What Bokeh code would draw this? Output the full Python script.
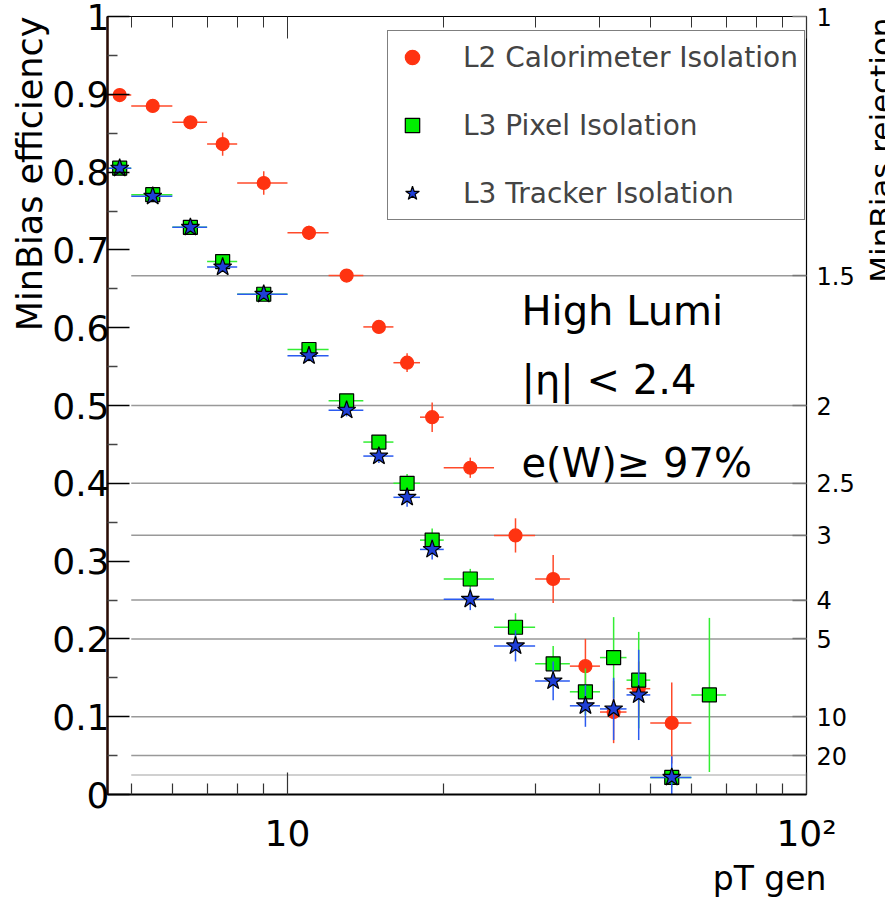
import math
from bokeh.plotting import figure
from bokeh.layouts import row
from bokeh.models import (FixedTicker, LinearAxis, LogAxis, Label, CustomJSTickFormatter,
                          ColumnDataSource, Legend, LegendItem, Title)
from bokeh.embed import file_html
from bokeh.resources import INLINE

# ---- data ----
pt_center = [4.75, 5.5, 6.5, 7.5, 9, 11, 13, 15, 17, 19, 22.5, 27.5, 32.5, 37.5, 42.5, 47.5, 55, 65]
pt_lo = [4.5, 5, 6, 7, 8, 10, 12, 14, 16, 18, 20, 25, 30, 35, 40, 45, 50, 60]
pt_hi = [5, 6, 7, 8, 10, 12, 14, 16, 18, 20, 25, 30, 35, 40, 45, 50, 60, 70]

l2_calo_eff = [0.899, 0.885, 0.864, 0.836, 0.786, 0.722, 0.667, 0.601, 0.555, 0.485, 0.420,
               0.333, 0.277, 0.165, 0.106, 0.136, 0.092]
l2_calo_err = [0.003, 0.004, 0.005, 0.015, 0.015, 0.009, 0.005, 0.006, 0.012, 0.019, 0.013,
               0.022, 0.031, 0.035, 0.040, 0.035, 0.052]

l3_pixel_eff = [0.805, 0.771, 0.729, 0.685, 0.643, 0.572, 0.506, 0.453, 0.400, 0.327, 0.277,
                0.215, 0.168, 0.132, 0.176, 0.147, 0.022, 0.128]
l3_pixel_err = [0.003, 0.003, 0.004, 0.005, 0.006, 0.007, 0.008, 0.009, 0.012, 0.015, 0.013,
                0.018, 0.023, 0.030, 0.052, 0.062, 0.012, 0.099]

l3_tracker_eff = [0.805, 0.769, 0.729, 0.678, 0.643, 0.564, 0.494, 0.435, 0.382, 0.315, 0.251,
                  0.191, 0.146, 0.114, 0.110, 0.128, 0.022]
l3_tracker_err = [0.003, 0.003, 0.004, 0.005, 0.006, 0.007, 0.008, 0.009, 0.012, 0.013, 0.014,
                  0.020, 0.025, 0.027, 0.040, 0.058, 0.027]

y_ticks = [0.0, 0.1, 0.2, 0.3, 0.4, 0.5, 0.6, 0.7, 0.8, 0.9, 1.0]
y_minor = [0.05, 0.15, 0.25, 0.35, 0.45, 0.55, 0.65, 0.75, 0.85, 0.95]
x_ticks = [10, 100]
x_minor = [5, 6, 7, 8, 9, 20, 30, 40, 50, 60, 70, 80, 90]
rejection_ticks = [1, 1.5, 2, 2.5, 3, 4, 5, 10, 20]
rejection_lines = [1.5, 2, 2.5, 3, 4, 5, 10, 20, 40]

FONT = "DejaVu Sans"
RED = "#ff3311"
GREEN = "#00ee00"
BLUE = "#1f3fd6"

p = figure(width=857, height=897, x_axis_type="log", x_range=(4.5, 100), y_range=(0, 1),
           output_backend="svg", toolbar_location=None,
           min_border_left=107, min_border_right=49, min_border_top=16, min_border_bottom=100)
p.grid.visible = False
p.outline_line_color = "black"
p.outline_line_width = 1.2
p.background_fill_color = "white"
p.border_fill_color = "white"

# reference lines for rejection values
rej_src = ColumnDataSource(dict(
    y=[1.0 / r for r in rejection_lines],
    x0=[5] * len(rejection_lines),
    x1=[100] * len(rejection_lines),
    c=["#999999"] * (len(rejection_lines) - 1) + ["#c0c0c0"],
))
p.segment(x0="x0", x1="x1", y0="y", y1="y", line_color="c", line_width=1.5, source=rej_src)


def series(eff, err, color, bar_color, marker, size, line_color):
    n = len(eff)
    src = ColumnDataSource(dict(
        x=pt_center[:n], lo=pt_lo[:n], hi=pt_hi[:n], y=eff,
        ylo=[v - e for v, e in zip(eff, err)], yhi=[v + e for v, e in zip(eff, err)],
    ))
    p.segment(x0="lo", x1="hi", y0="y", y1="y", line_color=bar_color, line_width=1.5, source=src)
    p.segment(x0="x", x1="x", y0="ylo", y1="yhi", line_color=bar_color, line_width=1.5, source=src)
    return p.scatter(x="x", y="y", marker=marker, size=size, fill_color=color,
                     line_color=line_color, line_width=1.2, source=src)


r_red = series(l2_calo_eff, l2_calo_err, RED, "#ff4a2a", "circle", 13, RED)
r_green = series(l3_pixel_eff, l3_pixel_err, GREEN, "#33ee33", "square", 14, "black")
r_blue = series(l3_tracker_eff, l3_tracker_err, BLUE, "#2a5af0", "star", 19, "black")

# left axis
ya = p.yaxis[0]
ya.ticker = FixedTicker(ticks=y_ticks, minor_ticks=y_minor)
ya.major_label_overrides = {0: "0", 1: "1"}
ya.major_label_text_font = FONT
ya.major_label_text_font_size = "36px"
ya.major_label_text_color = "black"
ya.major_label_standoff = -2
ya.major_tick_in = 22
ya.major_tick_out = 0
ya.minor_tick_in = 10
ya.minor_tick_out = 0
ya.axis_line_width = 2.5
ya.axis_line_color = "#2a0d05"
ya.major_tick_line_width = 1.5
ya.minor_tick_line_color = "#444444"
ya.minor_tick_line_width = 1.5

# bottom axis
xa = p.xaxis[0]
xa.ticker = FixedTicker(ticks=x_ticks, minor_ticks=x_minor)
xa.major_label_overrides = {10: "10", 100: "10²"}
xa.major_label_text_font = FONT
xa.major_label_text_font_size = "36px"
xa.major_label_text_color = "black"
xa.major_label_standoff = 18
xa.major_tick_in = 22
xa.major_tick_out = 0
xa.minor_tick_in = 11
xa.minor_tick_out = 0
xa.axis_line_width = 2
xa.major_tick_line_color = "#333333"
xa.minor_tick_line_color = "#333333"
xa.major_tick_line_width = 1.2
xa.minor_tick_line_width = 1.2

# top axis (ticks only)
top = LogAxis(ticker=FixedTicker(ticks=x_ticks, minor_ticks=x_minor),
              major_tick_in=22, major_tick_out=0, minor_tick_in=11, minor_tick_out=0,
              major_label_text_font_size="1px", major_label_text_alpha=0,
              major_label_standoff=0, axis_line_color=None,
              major_tick_line_color="#333333", minor_tick_line_color="#333333")
p.add_layout(top, "above")

# right axis: MinBias rejection = 1 / efficiency
right = LinearAxis(ticker=FixedTicker(ticks=[1.0 / r for r in rejection_ticks]),
                   formatter=CustomJSTickFormatter(code="return String(Math.round(10/tick)/10)"),
                   major_tick_in=14, major_tick_out=0, minor_tick_in=0, minor_tick_out=0,
                   axis_line_color=None, major_tick_line_color="#777777",
                   major_tick_line_width=1.5,
                   major_label_text_font=FONT, major_label_text_font_size="24px",
                   major_label_text_color="black",
                   major_label_standoff=10)
p.add_layout(right, "right")

# left / bottom axis titles
p.add_layout(Title(text="MinBias efficiency", align="right", standoff=0,
                   text_font=FONT, text_font_size="35px", text_font_style="normal",
                   text_color="black"), "left")
p.add_layout(Title(text="pT gen", align="right", standoff=0, offset=-20,
                   text_font=FONT, text_font_size="33px", text_font_style="normal",
                   text_color="black"), "below")

# annotations
for txt, yy in [("High Lumi", 484), ("|η| < 2.4", 415), ("e(W)≥ 97%", 332)]:
    p.add_layout(Label(x=414, y=yy, x_units="screen", y_units="screen", text=txt,
                       text_align="left", text_baseline="alphabetic",
                       text_font=FONT, text_font_size="40px", text_color="black"))

legend = Legend(items=[
    LegendItem(label="L2 Calorimeter Isolation", renderers=[r_red]),
    LegendItem(label="L3 Pixel Isolation", renderers=[r_green]),
    LegendItem(label="L3 Tracker Isolation", renderers=[r_blue]),
], location=(280, 574), margin=0, padding=6, spacing=28, glyph_width=36, glyph_height=40,
    label_height=40, label_standoff=33, label_text_font=FONT, label_text_font_size="28px",
    border_line_color="black", border_line_width=1.5, background_fill_color="white",
    background_fill_alpha=1.0)
p.add_layout(legend)

# narrow strip on the right carrying the right-axis title (reads bottom to top)
p2 = figure(width=28, height=897, x_range=(0, 1), y_range=(0, 1), title=None,
            output_backend="svg", toolbar_location=None,
            x_axis_location=None, y_axis_location=None,
            min_border_left=0, min_border_right=0, min_border_top=0, min_border_bottom=0)
p2.grid.visible = False
p2.outline_line_color = None
p2.background_fill_color = "white"
p2.border_fill_color = "white"
p2.add_layout(Label(x=23, y=777, x_units="screen", y_units="screen", text="MinBias rejection",
                    angle=math.pi / 2, text_align="right", text_baseline="alphabetic",
                    text_font=FONT, text_font_size="31px", text_color="black"))

open("out.html", "w").write(file_html(row(p, p2), INLINE))
